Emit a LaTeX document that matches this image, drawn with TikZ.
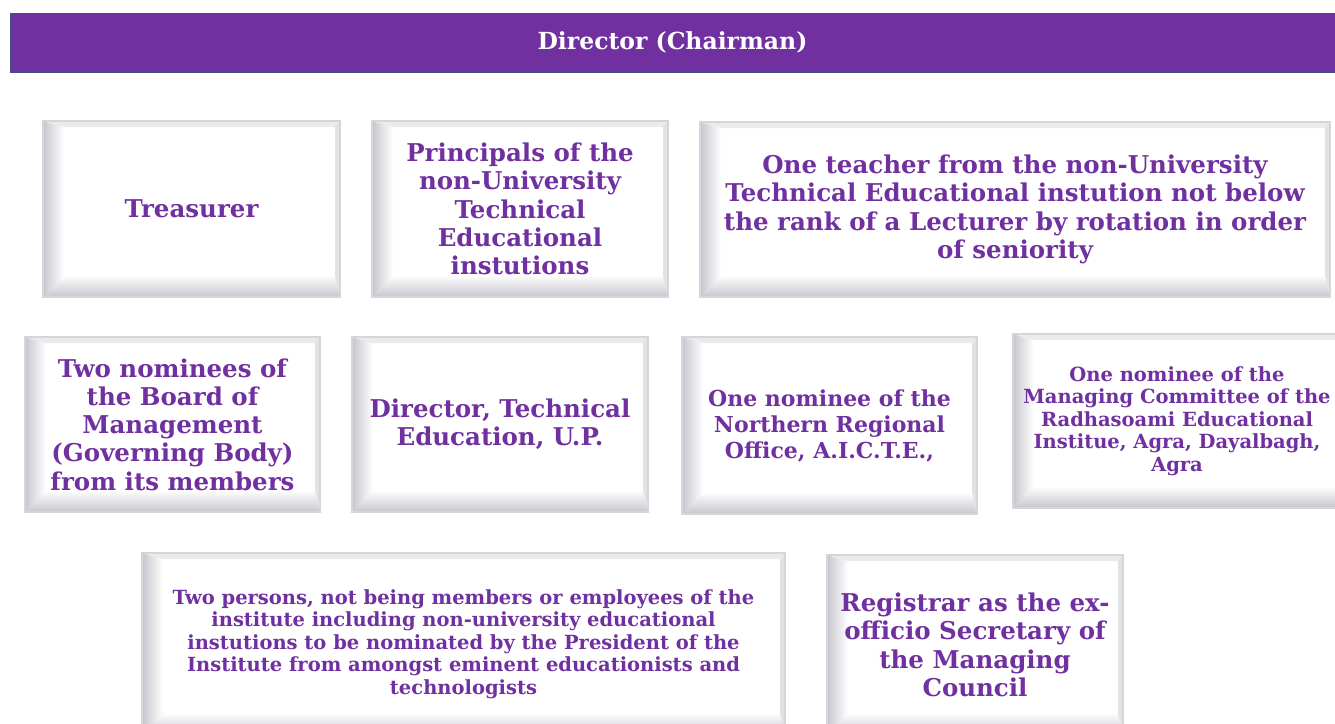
\documentclass[tikz,border=0pt]{standalone}
\usepackage{fontspec}
\setmainfont{DejaVu Serif}
\usetikzlibrary{calc,backgrounds}
\definecolor{purp}{HTML}{7030A0}
\definecolor{hdrline}{HTML}{3F4F8C}
\definecolor{bevg}{HTML}{C6C6CE}
\definecolor{edgeg}{HTML}{D6D6DA}
\tikzset{
  box/.style={inner sep=0pt, outer sep=0pt, align=center, text=purp,
    font=\fontsize{24.5}{28.3}\selectfont\bfseries},
  midtxt/.style={font=\fontsize{22}{26}\selectfont\bfseries},
  smalltxt/.style={font=\fontsize{19.5}{22.5}\selectfont\bfseries},
  header/.style={fill=purp, draw=hdrline, line width=1pt, inner sep=0pt, outer sep=0pt,
    text=white, font=\fontsize{23.5}{26}\selectfont\bfseries},
}
\newcommand{\bevelbox}[1]{%
  \coordinate (i1) at ($(#1.north west)+(21pt,-6pt)$);
  \coordinate (i2) at ($(#1.north east)+(-5pt,-6pt)$);
  \coordinate (i3) at ($(#1.south east)+(-5pt,22pt)$);
  \coordinate (i4) at ($(#1.south west)+(21pt,22pt)$);
  \fill[white] (#1.north west) rectangle (#1.south east);
  \shade[left color=bevg, right color=white] (#1.north west) -- (#1.south west) -- (i4) -- (i1) -- cycle;
  \shade[bottom color=bevg, top color=white] (#1.south west) -- (#1.south east) -- (i3) -- (i4) -- cycle;
  \fill[edgeg!50] (#1.north west) -- (#1.north east) -- (i2) -- (i1) -- cycle;
  \fill[edgeg!70] (#1.north east) -- (#1.south east) -- (i3) -- (i2) -- cycle;
  \draw[edgeg, line width=1.3pt] (#1.north west) rectangle (#1.south east);
}
\begin{document}
\begin{tikzpicture}[x=1pt,y=-1pt]
\useasboundingbox (0,0) rectangle (1335,723);
\node[header, minimum width=1325pt, minimum height=59pt] (dir) at (672.5,42.5) {Director (Chairman)};
% row 1
\node[box, minimum width=297pt, minimum height=176pt] (treas) at (191.5,209) {Treasurer};
\node[box, minimum width=296pt, minimum height=176pt] (princ) at (520,209) {Principals of the\\non-University\\Technical\\Educational\\instutions};
\node[box, minimum width=630pt, minimum height=175pt] (teach) at (1015,209.5) {One teacher from the non-University\\Technical Educational instution not below\\the rank of a Lecturer by rotation in order\\of seniority};
% row 2
\node[box, minimum width=295pt, minimum height=175pt] (two) at (172.5,424.5) {Two nominees of\\the Board of\\Management\\(Governing Body)\\from its members};
\node[box, minimum width=296pt, minimum height=175pt] (dte) at (500,424.5) {Director, Technical\\Education, U.P.};
\node[box, midtxt, minimum width=295pt, minimum height=177pt] (nro) at (829.5,425.5) {One nominee of the\\Northern Regional\\Office, A.I.C.T.E.,};
\node[box, smalltxt, minimum width=328pt, minimum height=174pt] (rei) at (1177,421) {One nominee of the\\Managing Committee of the\\Radhasoami Educational\\Institue, Agra, Dayalbagh,\\Agra};
% row 3
\node[box, smalltxt, minimum width=643pt, minimum height=182pt] (pers) at (463.5,644) {Two persons, not being members or employees of the\\institute including non-university educational\\instutions to be nominated by the President of the\\Institute from amongst eminent educationists and\\technologists};
\node[box, minimum width=296pt, minimum height=180pt] (reg) at (975,645) {Registrar as the ex-\\officio Secretary of\\the Managing\\Council};
\begin{pgfonlayer}{background}
\bevelbox{treas}\bevelbox{princ}\bevelbox{teach}
\bevelbox{two}\bevelbox{dte}\bevelbox{nro}\bevelbox{rei}
\bevelbox{pers}\bevelbox{reg}
\end{pgfonlayer}
\end{tikzpicture}
\end{document}
